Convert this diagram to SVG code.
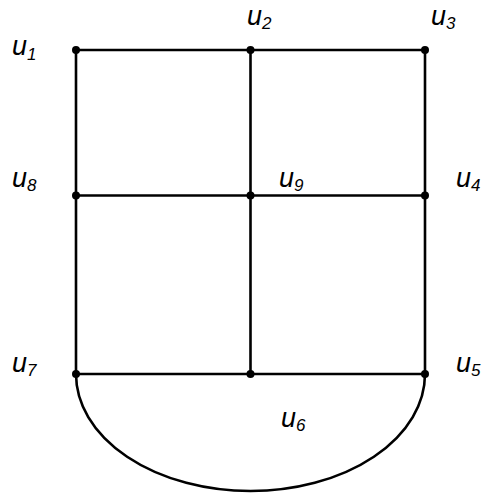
<svg xmlns="http://www.w3.org/2000/svg" width="483" height="495" viewBox="0 0 483 495">
<style>
.e{stroke:#000;stroke-width:2.6;fill:none}
.n{fill:#000}
.l{font-family:"Liberation Sans",Arial,sans-serif;font-style:italic;font-size:27px;fill:#000}
.s{font-size:17px}
</style>
<rect width="483" height="495" fill="#fff"/>
<g id="connectors">
<line class="e" x1="76" y1="50" x2="425" y2="50"/>
<line class="e" x1="76" y1="195.5" x2="425" y2="195.5"/>
<line class="e" x1="76" y1="374" x2="425" y2="374"/>
<line class="e" x1="76" y1="50" x2="76" y2="374"/>
<line class="e" x1="250.5" y1="50" x2="250.5" y2="374"/>
<line class="e" x1="425" y1="50" x2="425" y2="374"/>
<path class="e" d="M76,374 A174.5,117 0 0 0 425,374"/>
</g>
<g id="u1"><circle class="n" cx="76" cy="50" r="4"/><text class="l" x="12" y="55">u<tspan class="s" dy="5">1</tspan></text></g>
<g id="u2"><circle class="n" cx="250.5" cy="50" r="4"/><text class="l" x="247" y="25">u<tspan class="s" dy="4">2</tspan></text></g>
<g id="u3"><circle class="n" cx="425" cy="50" r="4"/><text class="l" x="431" y="25">u<tspan class="s" dy="4">3</tspan></text></g>
<g id="u8"><circle class="n" cx="76" cy="195.5" r="4"/><text class="l" x="12" y="187">u<tspan class="s" dy="4">8</tspan></text></g>
<g id="u9"><circle class="n" cx="250.5" cy="195.5" r="4"/><text class="l" x="279" y="187">u<tspan class="s" dy="4">9</tspan></text></g>
<g id="u4"><circle class="n" cx="425" cy="195.5" r="4"/><text class="l" x="456" y="187">u<tspan class="s" dy="4">4</tspan></text></g>
<g id="u7"><circle class="n" cx="76" cy="374" r="4"/><text class="l" x="12" y="372">u<tspan class="s" dy="4">7</tspan></text></g>
<g id="u6"><circle class="n" cx="250.5" cy="374" r="4"/><text class="l" x="281" y="427">u<tspan class="s" dy="4">6</tspan></text></g>
<g id="u5"><circle class="n" cx="425" cy="374" r="4"/><text class="l" x="456" y="372">u<tspan class="s" dy="4">5</tspan></text></g>
</svg>
